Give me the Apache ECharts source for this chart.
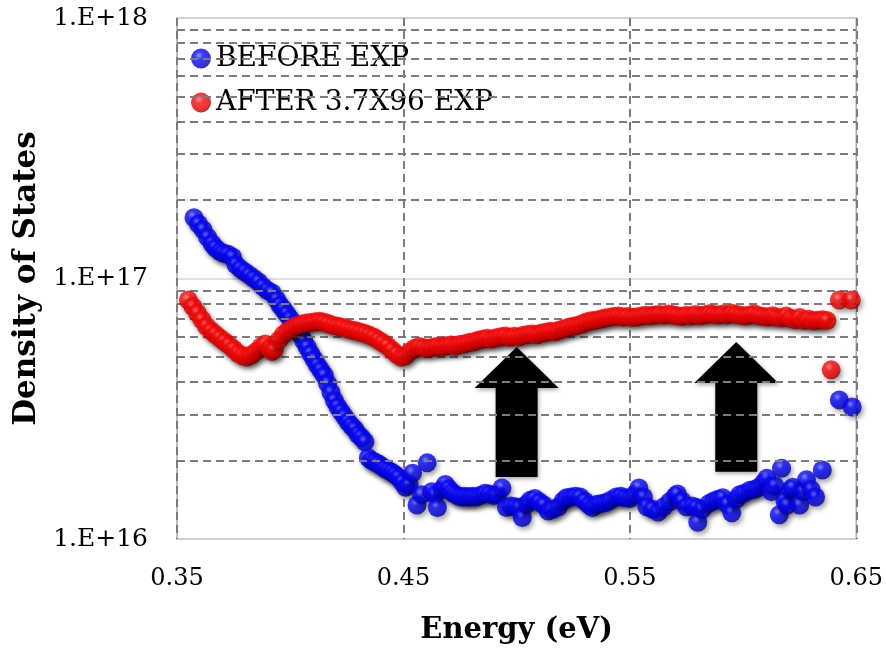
<!DOCTYPE html>
<html>
<head>
<meta charset="utf-8">
<script src="https://cdn.jsdelivr.net/npm/echarts@6/dist/echarts.min.js"></script>
<style>
html,body{margin:0;padding:0;background:#fff;}
#chart{width:886px;height:652px;}
</style>
</head>
<body>
<div id="chart"></div>
<script>
// ---- DATA (Density of States values in units of 1e16) ----
const seriesNames = ['BEFORE EXP', 'AFTER 3.7X96 EXP'];
const dosUnit = 1e16;

const blueEnergy = [0.3575,0.3595,0.3615,0.3635,0.3655,0.3670,0.3690,0.3705,0.3725,0.3745,0.3760,0.3780,0.3800,0.3820,0.3840,0.3860,0.3880,0.3900,0.3920,0.3940,0.3955,0.3970,0.3985,0.4000,0.4015,0.4030,0.4045,0.4060,0.4075,0.4090,0.4105,0.4120,0.4135,0.4150,0.4165,0.4180,0.4195,0.4210,0.4225,0.4240,0.4255,0.4270,0.4285,0.4300,0.4315,0.4330,0.4345,0.4360,0.4375,0.4390,0.4405,0.4420,0.4435,0.4450,0.4465,0.4480,0.4495,0.4510,0.4525,0.4540,0.4560,0.4580,0.4605,0.4625,0.4640,0.4650,0.4670,0.4685,0.4700,0.4715,0.4730,0.4745,0.4760,0.4775,0.4790,0.4805,0.4820,0.4840,0.4860,0.4880,0.4900,0.4915,0.4935,0.4955,0.4975,0.4995,0.5015,0.5025,0.5045,0.5060,0.5080,0.5100,0.5120,0.5140,0.5160,0.5185,0.5205,0.5220,0.5240,0.5260,0.5280,0.5300,0.5320,0.5335,0.5355,0.5375,0.5395,0.5415,0.5440,0.5460,0.5480,0.5500,0.5520,0.5540,0.5560,0.5575,0.5600,0.5625,0.5650,0.5675,0.5700,0.5710,0.5730,0.5750,0.5775,0.5795,0.5800,0.5820,0.5850,0.5870,0.5890,0.5910,0.5930,0.5950,0.5970,0.5985,0.6005,0.6030,0.6050,0.6070,0.6090,0.6105,0.6125,0.6140,0.6160,0.6170,0.6185,0.6195,0.6210,0.6220,0.6250,0.6265,0.6280,0.6300,0.6320,0.6350,0.6425,0.6482];
const blueDos = [17.1,16.2,15.4,14.4,13.6,13.1,12.7,12.5,12.4,12.1,11.3,10.9,10.6,10.3,10.0,9.7,9.3,9.0,8.8,8.3,7.9,7.6,7.3,7.0,6.7,6.4,6.1,5.75,5.45,5.15,4.9,4.65,4.45,4.25,3.95,3.65,3.40,3.22,3.08,2.95,2.82,2.72,2.64,2.52,2.45,2.36,2.05,2.00,1.97,1.94,1.90,1.86,1.83,1.80,1.76,1.72,1.65,1.58,1.62,1.79,1.35,1.48,1.96,1.52,1.48,1.32,1.55,1.62,1.56,1.51,1.48,1.46,1.45,1.46,1.45,1.46,1.45,1.47,1.50,1.49,1.47,1.48,1.57,1.32,1.34,1.33,1.32,1.21,1.36,1.41,1.43,1.39,1.35,1.28,1.30,1.33,1.40,1.44,1.45,1.46,1.45,1.40,1.35,1.32,1.36,1.37,1.38,1.41,1.45,1.46,1.44,1.43,1.48,1.57,1.45,1.33,1.30,1.27,1.33,1.39,1.46,1.49,1.40,1.33,1.34,1.32,1.16,1.30,1.37,1.40,1.42,1.44,1.36,1.26,1.42,1.48,1.50,1.54,1.55,1.58,1.64,1.71,1.52,1.60,1.24,1.87,1.40,1.35,1.55,1.58,1.35,1.52,1.69,1.55,1.45,1.84,3.42,3.21];

const redEnergy = [0.355,0.357,0.359,0.361,0.363,0.365,0.367,0.369,0.371,0.373,0.375,0.377,0.379,0.381,0.383,0.385,0.387,0.389,0.391,0.392,0.393,0.395,0.397,0.399,0.401,0.403,0.405,0.407,0.409,0.411,0.413,0.415,0.417,0.419,0.421,0.423,0.425,0.427,0.429,0.431,0.433,0.435,0.437,0.439,0.441,0.443,0.445,0.447,0.449,0.451,0.453,0.455,0.457,0.459,0.461,0.463,0.465,0.467,0.469,0.471,0.473,0.475,0.477,0.479,0.481,0.483,0.485,0.487,0.489,0.491,0.493,0.495,0.497,0.499,0.501,0.503,0.505,0.507,0.509,0.511,0.513,0.515,0.517,0.519,0.521,0.523,0.525,0.527,0.529,0.531,0.533,0.535,0.537,0.539,0.541,0.543,0.545,0.547,0.549,0.551,0.553,0.555,0.557,0.559,0.561,0.563,0.565,0.567,0.569,0.571,0.573,0.575,0.577,0.579,0.581,0.583,0.585,0.587,0.589,0.591,0.593,0.595,0.597,0.599,0.601,0.603,0.605,0.607,0.609,0.611,0.613,0.615,0.617,0.619,0.621,0.623,0.625,0.627,0.629,0.631,0.633,0.635,0.637,0.6389,0.6425,0.6478];
const redDos = [8.27,7.80,7.37,6.95,6.55,6.30,6.10,5.90,5.72,5.55,5.35,5.15,5.05,5.00,5.10,5.25,5.46,5.60,5.40,5.25,5.35,5.80,6.10,6.30,6.45,6.60,6.68,6.75,6.78,6.82,6.85,6.80,6.70,6.60,6.55,6.50,6.42,6.35,6.30,6.22,6.15,6.05,5.95,5.80,5.65,5.50,5.30,5.12,4.98,5.05,5.25,5.40,5.48,5.42,5.38,5.45,5.50,5.47,5.52,5.55,5.50,5.58,5.62,5.68,5.72,5.80,5.85,5.90,5.85,5.92,5.98,6.02,5.95,6.00,5.96,6.05,6.10,6.12,6.08,6.18,6.22,6.28,6.25,6.35,6.42,6.50,6.55,6.62,6.70,6.82,6.88,6.92,6.98,7.05,7.10,7.15,7.18,7.12,7.15,7.08,7.12,7.18,7.22,7.20,7.25,7.28,7.22,7.30,7.26,7.20,7.15,7.22,7.18,7.28,7.20,7.25,7.32,7.28,7.22,7.30,7.25,7.35,7.28,7.22,7.18,7.25,7.30,7.20,7.15,7.12,7.20,7.10,7.05,7.18,7.02,6.95,7.08,6.90,6.98,6.88,6.92,6.95,6.90,4.46,8.27,8.27];

// arrows: x position, tip value, tail value (units of 1e16)
const arrowEnergy = [0.500, 0.597];
const arrowTop = [5.46, 5.71];
const arrowBottom = [1.73, 1.81];

// axis settings
const xMin = 0.35, xMax = 0.65, xStep = 0.1;
const yMin = 1e16, yMax = 1e18;
const minorGridValues = [2e16,3e16,4e16,5e16,6e16,7e16,8e16,9e16,2e17,3e17,4e17,5e17,6e17,7e17,8e17,9e17];

// ---- BUILD ----
const toPairs = (xs, ys) => xs.map((x, i) => [x, ys[i] * dosUnit]);
const blueData = toPairs(blueEnergy, blueDos);
const redData = toPairs(redEnergy, redDos);
const arrowData = arrowEnergy.map((x, i) => [x, arrowTop[i] * dosUnit, arrowBottom[i] * dosUnit]);

function sphere(light, mid, dark, edge) {
  return {
    type: 'radial', x: 0.4, y: 0.35, r: 0.68,
    colorStops: [
      { offset: 0, color: light },
      { offset: 0.3, color: mid },
      { offset: 0.8, color: dark },
      { offset: 1, color: edge }
    ]
  };
}
const blueColor = sphere('#7b7bff', '#0a0aff', '#0000d8', '#00007a');
const redColor = sphere('#ff8080', '#ff0a0a', '#dd0000', '#7a0000');

const serifFont = '"DejaVu Serif", serif';
const dashStyle = { color: '#7c7c7c', width: 2, type: [8, 5], opacity: 1 };

const chart = echarts.init(document.getElementById('chart'), null, { renderer: 'canvas' });

chart.setOption({
  backgroundColor: '#ffffff',
  animation: false,
  grid: {
    left: 177, right: 29, top: 18, bottom: 113,
    show: true, borderColor: '#a8a8a8', borderWidth: 1.5, backgroundColor: 'transparent'
  },
  legend: {
    data: seriesNames,
    orient: 'vertical',
    left: 186, top: 38,
    itemWidth: 20, itemHeight: 20,
    itemGap: 13,
    icon: 'circle',
    textStyle: { fontFamily: serifFont, fontSize: 28, color: '#000', lineHeight: 31 }
  },
  xAxis: {
    type: 'value',
    min: xMin, max: xMax, interval: xStep,
    name: 'Energy (eV)',
    nameLocation: 'middle',
    nameGap: 77,
    nameTextStyle: { fontFamily: serifFont, fontWeight: 'bold', fontSize: 29, color: '#000' },
    axisLine: { show: false },
    axisTick: { show: false },
    axisLabel: {
      margin: 28,
      fontFamily: serifFont, fontSize: 24, color: '#000',
      formatter: v => v.toFixed(2)
    },
    splitLine: { show: true, lineStyle: dashStyle }
  },
  yAxis: {
    type: 'log',
    logBase: 10,
    min: yMin, max: yMax,
    splitNumber: 2,
    name: 'Density of States',
    nameLocation: 'middle',
    nameGap: 127,
    nameTextStyle: { fontFamily: serifFont, fontWeight: 'bold', fontSize: 31, color: '#000' },
    axisLine: { show: false },
    axisTick: { show: false },
    axisLabel: {
      margin: 29,
      fontFamily: serifFont, fontSize: 25, color: '#000',
      formatter: v => '1.E+' + Math.round(Math.log10(v))
    },
    splitLine: { show: true, lineStyle: { color: '#d9d9d9', width: 1.5, type: 'solid' } }
  },
  series: [
    {
      name: 'minor-grid',
      type: 'line',
      data: [],
      silent: true,
      z: 1,
      markLine: {
        silent: true,
        symbol: ['none', 'none'],
        label: { show: false },
        lineStyle: dashStyle,
        emphasis: { disabled: true },
        animation: false,
        data: minorGridValues.map(v => ({ yAxis: v, lineStyle: dashStyle }))
      }
    },
    {
      name: 'arrows',
      type: 'custom',
      z: 3,
      silent: true,
      data: arrowData,
      encode: { x: 0, y: [1, 2] },
      renderItem: function (params, api) {
        const tip = api.coord([api.value(0), api.value(1)]);
        const tail = api.coord([api.value(0), api.value(2)]);
        const headLen = 41, headHalf = 42, shaftHalf = 21;
        const cx = tip[0];
        const hb = tip[1] + headLen;
        return {
          type: 'polygon',
          shape: {
            points: [
              [cx, tip[1]],
              [cx + headHalf, hb],
              [cx + shaftHalf, hb],
              [cx + shaftHalf, tail[1]],
              [cx - shaftHalf, tail[1]],
              [cx - shaftHalf, hb],
              [cx - headHalf, hb]
            ]
          },
          style: {
            fill: '#000',
            shadowBlur: 4, shadowColor: 'rgba(0,0,0,0.35)', shadowOffsetX: 1, shadowOffsetY: 2
          }
        };
      }
    },
    {
      name: seriesNames[0],
      type: 'scatter',
      z: 4,
      data: blueData,
      symbol: 'circle',
      symbolSize: 19,
      itemStyle: {
        color: blueColor,
        shadowBlur: 5, shadowColor: 'rgba(0,0,0,0.45)', shadowOffsetX: 2, shadowOffsetY: 3
      }
    },
    {
      name: seriesNames[1],
      type: 'scatter',
      z: 5,
      data: redData,
      symbol: 'circle',
      symbolSize: 19,
      itemStyle: {
        color: redColor,
        shadowBlur: 5, shadowColor: 'rgba(0,0,0,0.45)', shadowOffsetX: 2, shadowOffsetY: 3
      }
    }
  ]
});
</script>
</body>
</html>
